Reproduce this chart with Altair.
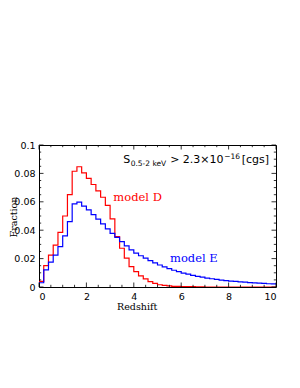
import altair as alt
import pandas as pd

# ---- data ----
bin_lo = [0.0, 0.2, 0.4, 0.6, 0.8, 1.0, 1.2, 1.4, 1.6, 1.8,
          2.0, 2.2, 2.4, 2.6, 2.8, 3.0, 3.2, 3.4, 3.6, 3.8,
          4.0, 4.2, 4.4, 4.6, 4.8, 5.0, 5.2, 5.4, 5.6, 5.8,
          6.0, 6.2, 6.4, 6.6, 6.8, 7.0, 7.2, 7.4, 7.6, 7.8,
          8.0, 8.2, 8.4, 8.6, 8.8, 9.0, 9.2, 9.4, 9.6, 9.8]
z_max = 10.0

model_d = [0.0040, 0.0150, 0.0225, 0.0295, 0.0385, 0.0500, 0.0650, 0.0815, 0.0847, 0.0803,
           0.0765, 0.0722, 0.0677, 0.0632, 0.0575, 0.0480, 0.0355, 0.0273, 0.0203, 0.0144,
           0.0108, 0.0078, 0.0057, 0.0038, 0.0026, 0.0016, 0.0011, 0.0008, 0.0005, 0.0004,
           0.0003, 0.0002, 0.0002, 0.0001, 0.0001, 0.0, 0.0, 0.0, 0.0, 0.0,
           0.0, 0.0, 0.0, 0.0, 0.0, 0.0, 0.0, 0.0, 0.0, 0.0]

model_e = [0.0030, 0.0120, 0.0175, 0.0225, 0.0285, 0.0360, 0.0460, 0.0585, 0.0598, 0.0570,
           0.0543, 0.0510, 0.0478, 0.0445, 0.0410, 0.0378, 0.0350, 0.0320, 0.0290, 0.0262,
           0.0238, 0.0220, 0.0203, 0.0186, 0.0170, 0.0155, 0.0142, 0.0130, 0.0118, 0.0108,
           0.0098, 0.0090, 0.0082, 0.0075, 0.0069, 0.0063, 0.0058, 0.0053, 0.0049, 0.0045,
           0.0042, 0.0039, 0.0036, 0.0034, 0.0031, 0.0029, 0.0027, 0.0025, 0.0023, 0.0022]

model_names = ["model D", "model E"]
model_colors = ["#ff0000", "#0000ff"]

x_major_ticks = [0, 2, 4, 6, 8, 10]
x_minor_ticks = [0.5, 1, 1.5, 2.5, 3, 3.5, 4.5, 5, 5.5, 6.5, 7, 7.5, 8.5, 9, 9.5]
y_major_ticks = [0, 0.02, 0.04, 0.06, 0.08, 0.1]
y_minor_ticks = [0.005, 0.01, 0.015, 0.025, 0.03, 0.035, 0.045, 0.05, 0.055,
                 0.065, 0.07, 0.075, 0.085, 0.09, 0.095]

# ---- layout ----
W, H = 237, 142
MAJ, MIN = 4.5, 2.2


def step_frame(vals, name):
    return pd.DataFrame({"z": bin_lo + [z_max], "frac": vals + [vals[-1]], "model": name})


df = pd.concat([step_frame(model_d, model_names[0]), step_frame(model_e, model_names[1])],
               ignore_index=True)

xscale = alt.Scale(domain=[0, 10], nice=False, zero=False)
yscale = alt.Scale(domain=[0, 0.1], nice=False)

x_axis = alt.Axis(values=x_major_ticks, format="d", title="Redshift", domain=False, ticks=False,
                  tickSize=0, grid=False, labelFont="DejaVu Sans", labelFontSize=9.5,
                  labelColor="black", labelPadding=4, titleFont="DejaVu Serif",
                  titleFontSize=9.5, titleFontWeight="normal", titleColor="black",
                  titleX=97.7, titleY=22.3, titleAlign="center", titleBaseline="alphabetic")
y_axis = alt.Axis(values=y_major_ticks,
                  labelExpr="datum.value == 0 ? '0' : format(datum.value, '.2~f')",
                  title="Fraction", domain=False, ticks=False, tickSize=0, grid=False,
                  labelFont="DejaVu Sans", labelFontSize=9.5, labelColor="black", labelPadding=4,
                  titleFont="DejaVu Serif", titleFontSize=9.5, titleFontWeight="normal",
                  titleColor="black", titleX=-26, titleY=71.5, titleAngle=270,
                  titleAlign="center", titleBaseline="middle")

lines = alt.Chart(df).mark_line(interpolate="step-after", strokeWidth=1.2, clip=True).encode(
    x=alt.X("z:Q", scale=xscale, axis=x_axis),
    y=alt.Y("frac:Q", scale=yscale, axis=y_axis),
    color=alt.Color("model:N", scale=alt.Scale(domain=model_names, range=model_colors), legend=None),
)


def xticks(vals, length, top):
    d = pd.DataFrame({"z": vals})
    if top:
        yy, yy2 = alt.value(0), alt.value(length)
    else:
        yy, yy2 = alt.value(H), alt.value(H - length)
    return alt.Chart(d).mark_rule(color="black", strokeWidth=0.8).encode(
        x=alt.X("z:Q", scale=xscale, axis=x_axis), y=yy, y2=yy2)


def yticks(vals, length, right):
    d = pd.DataFrame({"frac": vals})
    if right:
        xx, xx2 = alt.value(W), alt.value(W - length)
    else:
        xx, xx2 = alt.value(0), alt.value(length)
    return alt.Chart(d).mark_rule(color="black", strokeWidth=0.8).encode(
        y=alt.Y("frac:Q", scale=yscale, axis=y_axis), x=xx, x2=xx2)


tick_layers = [
    xticks(x_major_ticks, MAJ, False), xticks(x_minor_ticks, MIN, False),
    xticks(x_major_ticks, MAJ, True), xticks(x_minor_ticks, MIN, True),
    yticks(y_major_ticks, MAJ, False), yticks(y_minor_ticks, MIN, False),
    yticks(y_major_ticks, MAJ, True), yticks(y_minor_ticks, MIN, True),
]


def label(text, x, y, size, color, font, dx=0, dy=0):
    return alt.Chart(pd.DataFrame({"label": [text]})).mark_text(
        align="left", baseline="alphabetic", font=font, fontSize=size, color=color, dx=dx, dy=dy
    ).encode(
        x=alt.XDatum(x, scale=xscale, axis=x_axis),
        y=alt.YDatum(y, scale=yscale, axis=y_axis),
        text="label:N",
    )


tx, ty = 3.55, 0.0873
title_layers = [
    label("S", tx, ty, 11, "black", "DejaVu Sans"),
    label("0.5-2 keV", tx, ty, 7.5, "black", "DejaVu Sans", dx=7.5, dy=2.5),
    label("> 2.3\u00d710", tx, ty, 11, "black", "DejaVu Sans", dx=47),
    label("\u221216", tx, ty, 7.5, "black", "DejaVu Sans", dx=101, dy=-4.5),
    label("[cgs]", tx, ty, 11, "black", "DejaVu Sans", dx=118.5),
]

model_labels = [
    label("model D", 3.135, 0.0608, 11.5, model_colors[0], "DejaVu Serif"),
    label("model E", 5.527, 0.0174, 11.5, model_colors[1], "DejaVu Serif"),
]

chart = alt.layer(lines, *tick_layers, *title_layers, *model_labels).properties(
    width=W, height=H,
    background="white",
    autosize=alt.AutoSizeParams(type="none"),
    padding={"left": 31, "top": 137, "right": 16, "bottom": 60},
).configure_view(stroke="black", strokeWidth=1)

chart.save("out.html", embed_options={"renderer": "svg", "actions": False})
